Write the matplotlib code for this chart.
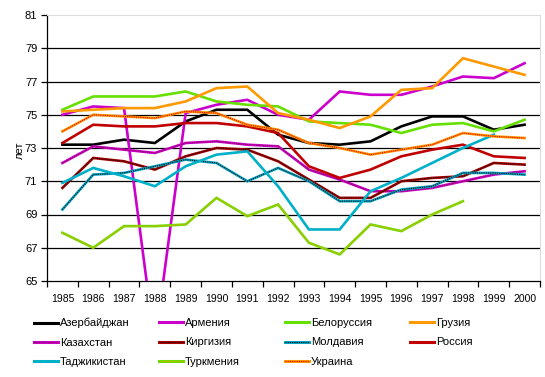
import numpy as np
import matplotlib.pyplot as plt
from matplotlib.lines import Line2D
from matplotlib.legend_handler import HandlerTuple

plt.rcParams['font.family'] = ['Liberation Sans', 'DejaVu Sans']

years = [str(y) for y in range(1985, 2001)]
nan = np.nan

# ожидаемая продолжительность жизни (женщины), лет
azerbaijan   = [73.2, 73.2, 73.5, 73.3, 74.6, 75.3, 75.3, 73.8, 73.3, 73.2, 73.4, 74.3, 74.9, 74.9, 74.1, 74.4]
armenia      = [75.0, 75.5, 75.4, 61.2, 75.1, 75.6, 75.9, 75.0, 74.7, 76.4, 76.2, 76.2, 76.7, 77.3, 77.2, 78.1]
belarus      = [75.3, 76.1, 76.1, 76.1, 76.4, 75.8, 75.6, 75.5, 74.6, 74.5, 74.4, 73.9, 74.4, 74.5, 74.0, 74.7]
georgia      = [75.2, 75.3, 75.4, 75.4, 75.8, 76.6, 76.7, 75.1, 74.7, 74.2, 74.9, 76.5, 76.6, 78.4, 77.9, 77.4]
kazakhstan   = [72.1, 73.1, 72.9, 72.7, 73.3, 73.4, 73.2, 73.1, 71.7, 71.1, 70.4, 70.4, 70.6, 71.0, 71.4, 71.6]
kyrgyzstan   = [70.6, 72.4, 72.2, 71.7, 72.5, 73.0, 72.9, 72.2, 71.1, 70.0, 70.0, 71.0, 71.2, 71.3, 72.1, 72.0]
moldova      = [69.3, 71.4, 71.5, 71.9, 72.3, 72.1, 71.0, 71.8, 71.0, 69.8, 69.8, 70.5, 70.7, 71.5, 71.5, 71.4]
russia       = [73.3, 74.4, 74.3, 74.3, 74.5, 74.5, 74.3, 73.9, 71.9, 71.2, 71.7, 72.5, 72.9, 73.2, 72.5, 72.4]
tajikistan   = [70.9, 71.8, 71.3, 70.7, 71.9, 72.6, 72.8, 70.7, 68.1, 68.1, 70.4, 71.2, 72.1, 73.0, 73.8, nan]
turkmenistan = [67.9, 67.0, 68.3, 68.3, 68.4, 70.0, 68.9, 69.6, 67.3, 66.6, 68.4, 68.0, 69.0, 69.8, nan, nan]
ukraine      = [74.0, 75.0, 74.9, 74.8, 75.2, 75.1, 74.4, 74.1, 73.3, 73.0, 72.6, 72.9, 73.2, 73.9, 73.7, 73.6]

# (название, данные, цвет линии, цвет точек поверх или None)
series = [
    ('Азербайджан', azerbaijan, '#000000', None),
    ('Армения', armenia, '#CC00CC', None),
    ('Белоруссия', belarus, '#66E000', None),
    ('Грузия', georgia, '#FF9900', None),
    ('Казахстан', kazakhstan, '#CC00CC', '#800040'),
    ('Киргизия', kyrgyzstan, '#B00000', '#000000'),
    ('Молдавия', moldova, '#00A8C8', '#000000'),
    ('Россия', russia, '#C00000', None),
    ('Таджикистан', tajikistan, '#00B0C8', None),
    ('Туркмения', turkmenistan, '#66E000', '#FF9900'),
    ('Украина', ukraine, '#FF9900', '#E00000'),
]

fig = plt.figure(figsize=(5.45, 3.77), dpi=100)
ax = fig.add_axes([47/545, 1 - 281/377, 493/545, 266/377])

x = np.arange(len(years))
handles = {}
for name, vals, col, dot in series:
    ax.plot(x, vals, color=col, lw=1.9, solid_joinstyle='miter', zorder=3)
    h = [Line2D([], [], color=col, lw=2.2)]
    if dot:
        ax.plot(x, vals, color=dot, lw=0.8, ls=(0, (1, 1)), zorder=3)
        h.append(Line2D([], [], color=dot, lw=0.8, ls=(0, (1, 1))))
    handles[name] = tuple(h)

ax.set_xlim(-0.5, len(years) - 0.5)
ax.set_ylim(65, 81)
ax.set_yticks(range(65, 82, 2))
for g in range(67, 80, 2):
    ax.axhline(g, color='black', lw=0.9, zorder=1)

ax.set_xticks(np.arange(-0.5, len(years)), labels=[])
ax.set_xticks(x, labels=years, minor=True)
ax.tick_params(axis='x', which='major', length=4, width=0.9, direction='out')
ax.tick_params(axis='x', which='minor', length=0, pad=9, labelsize=7.5)
ax.tick_params(axis='y', length=4, width=0.9, labelsize=8, pad=3)

for s in ['left', 'bottom']:
    ax.spines[s].set_linewidth(0.9)
for s in ['top', 'right']:
    ax.spines[s].set_color('#DDDDDD')
    ax.spines[s].set_linewidth(0.8)

fig.text(20/545, 1 - 150/377, 'лет', rotation=90, ha='center', va='center', fontsize=8)

# легенда: 4 колонки, как в исходнике
cols = [['Азербайджан', 'Казахстан', 'Таджикистан'],
        ['Армения', 'Киргизия', 'Туркмения'],
        ['Белоруссия', 'Молдавия', 'Украина'],
        ['Грузия', 'Россия']]
col_x = [34, 159, 285, 410]
for cx, names in zip(col_x, cols):
    fig.legend([handles[n] for n in names], names,
               handler_map={tuple: HandlerTuple(ndivide=1, pad=0)},
               loc='upper left', bbox_to_anchor=(cx/545, 1 - 318/377),
               frameon=False, fontsize=8, handlelength=2.2, handletextpad=0.15,
               labelspacing=0.85, borderaxespad=0, borderpad=0)

fig.savefig('out.png', dpi=100)
